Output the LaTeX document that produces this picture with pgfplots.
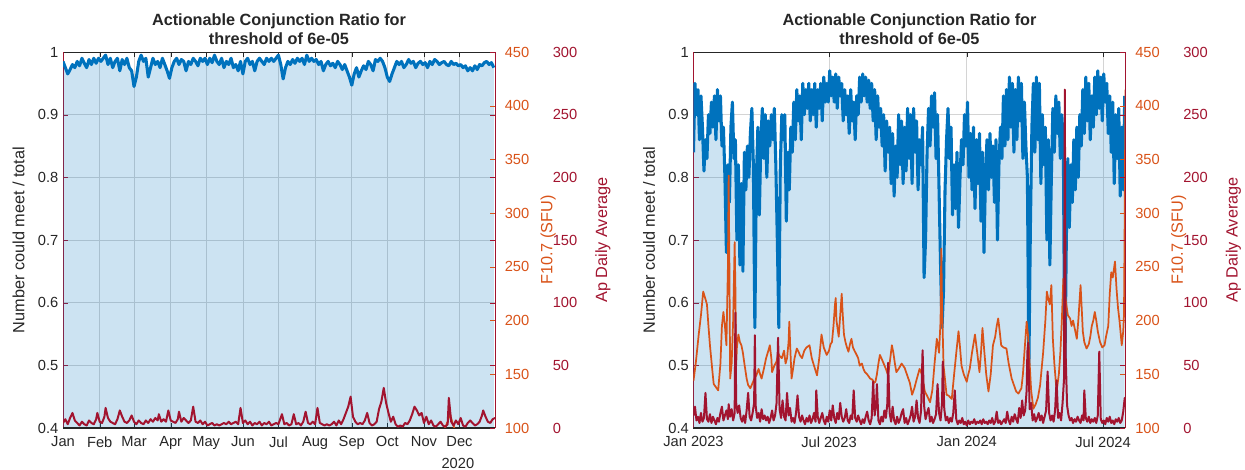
\documentclass[border=0pt]{standalone}
\usepackage{fontspec}
\setmainfont{Liberation Sans}
\usepackage{pgfplots}
\usepackage{pgfplotstable}
\pgfplotsset{compat=1.18}

\definecolor{mblue}{RGB}{0,114,189}
\definecolor{morange}{RGB}{217,83,25}
\definecolor{mred}{RGB}{162,20,47}
\definecolor{axgray}{RGB}{38,38,38}
\definecolor{gridgray}{RGB}{212,212,212}

% ---- 2020 panel ----
\pgfplotstableread[row sep=\\]{
x y\\
0 0.985\\ 2 0.975\\ 4 0.965\\ 6 0.972\\ 8 0.980\\ 10 0.975\\ 12 0.985\\ 14 0.978\\ 16 0.990\\ 18 0.982\\
20 0.975\\ 22 0.988\\ 24 0.980\\ 26 0.990\\ 28 0.982\\ 30 0.990\\ 32 0.985\\ 34 0.990\\ 36 0.995\\ 38 0.980\\
40 0.990\\ 42 0.975\\ 44 0.985\\ 46 0.990\\ 48 0.970\\ 50 0.988\\ 52 0.980\\ 54 0.990\\ 56 0.975\\ 58 0.970\\
60 0.945\\ 62 0.960\\ 64 0.985\\ 66 0.995\\ 68 0.985\\ 70 0.990\\ 72 0.960\\ 74 0.975\\ 76 0.990\\ 78 0.980\\
80 0.985\\ 82 0.975\\ 84 0.990\\ 86 0.980\\ 88 0.970\\ 90 0.958\\ 92 0.975\\ 94 0.985\\ 96 0.990\\ 98 0.980\\
100 0.988\\ 102 0.985\\ 104 0.970\\ 106 0.985\\ 108 0.980\\ 110 0.990\\ 112 0.985\\ 114 0.978\\ 116 0.990\\ 118 0.985\\
120 0.990\\ 122 0.980\\ 124 0.990\\ 126 0.983\\ 128 0.995\\ 130 0.985\\ 132 0.980\\ 134 0.990\\ 136 0.975\\ 138 0.985\\
140 0.980\\ 142 0.990\\ 144 0.975\\ 146 0.980\\ 148 0.970\\ 150 0.985\\ 152 0.965\\ 154 0.985\\ 156 0.990\\ 158 0.980\\
160 0.985\\ 162 0.970\\ 164 0.985\\ 166 0.990\\ 168 0.985\\ 170 0.980\\ 172 0.990\\ 174 0.985\\ 176 0.990\\ 178 0.985\\
180 0.990\\ 182 0.995\\ 184 0.980\\ 186 0.957\\ 188 0.975\\ 190 0.985\\ 192 0.980\\ 194 0.988\\ 196 0.982\\ 198 0.990\\
200 0.985\\ 202 0.990\\ 204 0.980\\ 206 0.995\\ 208 0.985\\ 210 0.990\\ 212 0.985\\ 214 0.988\\ 216 0.980\\ 218 0.985\\
220 0.970\\ 222 0.980\\ 224 0.985\\ 226 0.978\\ 228 0.982\\ 230 0.975\\ 232 0.985\\ 234 0.980\\ 236 0.972\\ 238 0.980\\
240 0.970\\ 242 0.960\\ 244 0.947\\ 246 0.965\\ 248 0.975\\ 250 0.960\\ 252 0.970\\ 254 0.978\\ 256 0.972\\ 258 0.985\\
260 0.980\\ 262 0.970\\ 264 0.988\\ 266 0.985\\ 268 0.990\\ 270 0.985\\ 272 0.975\\ 274 0.960\\ 276 0.953\\ 278 0.965\\
280 0.975\\ 282 0.985\\ 284 0.980\\ 286 0.985\\ 288 0.975\\ 290 0.980\\ 292 0.988\\ 294 0.982\\ 296 0.985\\ 298 0.975\\
300 0.982\\ 302 0.985\\ 304 0.980\\ 306 0.983\\ 308 0.975\\ 310 0.985\\ 312 0.980\\ 314 0.988\\ 316 0.985\\ 318 0.980\\
320 0.983\\ 322 0.985\\ 324 0.980\\ 326 0.978\\ 328 0.985\\ 330 0.980\\ 332 0.982\\ 334 0.978\\ 336 0.980\\ 338 0.975\\
340 0.978\\ 342 0.970\\ 344 0.975\\ 346 0.970\\ 348 0.978\\ 350 0.972\\ 352 0.980\\ 354 0.978\\ 356 0.983\\ 358 0.985\\
360 0.980\\ 362 0.983\\ 364 0.975\\
}\ratioA

\pgfplotstableread[row sep=\\]{
x y\\
300 88\\ 312 90\\ 318 94\\ 322 98\\ 325 106\\ 327 113\\ 329 105\\ 331 99\\ 335 92\\ 345 88\\ 365 85\\
}\fluxA

\pgfplotstableread[row sep=\\]{
x y\\
0 4\\ 2 7\\ 4 3\\ 6 8\\ 8 12\\ 10 6\\ 12 4\\ 14 2\\ 16 5\\ 18 3\\ 20 2\\ 22 6\\ 24 4\\ 26 3\\ 28 7\\ 29 12\\
31 5\\ 33 4\\ 35 9\\ 36 16\\ 38 8\\ 40 5\\ 42 4\\ 44 3\\ 46 7\\ 48 14\\ 50 9\\ 52 5\\ 54 4\\ 56 6\\ 58 10\\
60 5\\ 62 3\\ 64 6\\ 66 4\\ 68 3\\ 70 6\\ 72 4\\ 74 7\\ 76 5\\ 78 8\\ 80 6\\ 81 11\\ 83 5\\ 85 7\\ 87 5\\
89 14\\ 91 6\\ 93 5\\ 95 4\\ 97 7\\ 98 13\\ 100 5\\ 102 8\\ 104 6\\ 106 4\\ 108 6\\ 110 17\\ 112 5\\ 114 4\\
116 6\\ 118 3\\ 120 5\\ 122 2\\ 124 3\\ 126 4\\ 128 2\\ 130 3\\ 132 2\\ 134 3\\ 136 4\\ 138 3\\ 140 5\\
142 3\\ 144 4\\ 146 5\\ 148 3\\ 150 16\\ 152 4\\ 154 6\\ 156 3\\ 158 5\\ 160 2\\ 162 4\\ 164 3\\ 166 5\\
168 2\\ 170 4\\ 172 3\\ 174 5\\ 176 2\\ 178 3\\ 180 4\\ 182 3\\ 185 11\\ 187 3\\ 189 4\\ 191 2\\ 193 3\\
195 11\\ 197 3\\ 199 4\\ 201 2\\ 203 5\\ 205 13\\ 207 4\\ 209 3\\ 211 5\\ 213 3\\ 215 16\\ 217 4\\ 219 3\\
221 2\\ 223 3\\ 225 2\\ 227 3\\ 229 5\\ 231 2\\ 233 6\\ 235 3\\ 237 7\\ 239 12\\ 241 17\\ 243 25\\ 245 9\\
247 5\\ 249 3\\ 251 4\\ 253 3\\ 255 6\\ 257 12\\ 259 4\\ 261 2\\ 263 3\\ 265 5\\ 267 15\\ 269 21\\ 271 32\\
273 20\\ 275 12\\ 277 5\\ 279 9\\ 281 3\\ 283 1\\ 285 2\\ 287 1\\ 289 4\\ 291 3\\ 293 6\\ 295 11\\ 297 17\\
299 14\\ 301 10\\ 303 12\\ 305 4\\ 307 9\\ 309 3\\ 311 6\\ 313 2\\ 315 1\\ 317 3\\ 319 5\\ 321 2\\ 323 1\\
325 3\\ 326 24\\ 328 5\\ 330 2\\ 332 6\\ 334 3\\ 336 8\\ 338 2\\ 340 1\\ 342 4\\ 344 6\\ 346 4\\ 348 2\\
350 3\\ 352 5\\ 354 10\\ 355 14\\ 357 9\\ 359 5\\ 361 4\\ 363 7\\ 365 8\\
}\apA

% ---- 2023-2024 panel ----
\pgfplotstableread[row sep=\\]{
x y\\
0 0.84\\ 2 0.95\\ 4 0.90\\ 6 0.94\\ 8 0.86\\ 10 0.93\\ 12 0.88\\ 14 0.81\\ 16 0.86\\ 18 0.83\\
20 0.90\\ 22 0.87\\ 24 0.92\\ 26 0.88\\ 28 0.93\\ 30 0.86\\ 32 0.94\\ 34 0.89\\ 36 0.93\\ 38 0.85\\
40 0.88\\ 42 0.80\\ 44 0.68\\ 46 0.82\\ 48 0.76\\ 50 0.88\\ 52 0.92\\ 54 0.83\\ 56 0.86\\ 58 0.70\\
60 0.82\\ 62 0.66\\ 64 0.79\\ 66 0.65\\ 68 0.84\\ 70 0.78\\ 72 0.85\\ 74 0.80\\ 76 0.87\\ 78 0.91\\
80 0.82\\ 82 0.56\\ 84 0.80\\ 86 0.88\\ 88 0.74\\ 90 0.86\\ 92 0.91\\ 94 0.83\\ 96 0.90\\ 98 0.80\\
100 0.89\\ 102 0.85\\ 104 0.90\\ 106 0.86\\ 108 0.91\\ 110 0.82\\ 112 0.70\\ 114 0.56\\ 116 0.82\\ 118 0.90\\
120 0.86\\ 122 0.90\\ 124 0.73\\ 126 0.84\\ 128 0.78\\ 130 0.88\\ 132 0.84\\ 134 0.92\\ 136 0.86\\ 138 0.94\\
140 0.89\\ 142 0.93\\ 144 0.86\\ 146 0.95\\ 148 0.90\\ 150 0.94\\ 152 0.91\\ 154 0.95\\ 156 0.89\\ 158 0.94\\
160 0.90\\ 162 0.95\\ 164 0.88\\ 166 0.94\\ 168 0.91\\ 170 0.95\\ 172 0.89\\ 174 0.96\\ 176 0.92\\ 178 0.95\\
180 0.92\\ 182 0.97\\ 184 0.93\\ 186 0.96\\ 188 0.92\\ 190 0.965\\ 192 0.91\\ 194 0.96\\ 196 0.93\\ 198 0.95\\
200 0.89\\ 202 0.94\\ 204 0.90\\ 206 0.93\\ 208 0.87\\ 210 0.94\\ 212 0.89\\ 214 0.92\\ 216 0.86\\ 218 0.93\\
220 0.90\\ 222 0.96\\ 224 0.92\\ 226 0.965\\ 228 0.93\\ 230 0.96\\ 232 0.92\\ 234 0.955\\ 236 0.91\\ 238 0.95\\
240 0.89\\ 242 0.94\\ 244 0.86\\ 246 0.93\\ 248 0.88\\ 250 0.91\\ 252 0.85\\ 254 0.90\\ 256 0.81\\ 258 0.89\\
260 0.84\\ 262 0.88\\ 264 0.79\\ 266 0.87\\ 268 0.77\\ 270 0.85\\ 272 0.80\\ 274 0.90\\ 276 0.82\\ 278 0.89\\
280 0.79\\ 282 0.88\\ 284 0.81\\ 286 0.91\\ 288 0.83\\ 290 0.90\\ 292 0.79\\ 294 0.91\\ 296 0.84\\ 298 0.89\\
300 0.78\\ 302 0.86\\ 304 0.82\\ 306 0.88\\ 308 0.64\\ 310 0.70\\ 312 0.84\\ 314 0.91\\ 316 0.85\\ 318 0.93\\
320 0.88\\ 322 0.935\\ 324 0.83\\ 326 0.90\\ 328 0.78\\ 330 0.66\\ 332 0.56\\ 334 0.62\\ 336 0.78\\ 338 0.86\\
340 0.91\\ 342 0.83\\ 344 0.88\\ 346 0.74\\ 348 0.82\\ 350 0.75\\ 352 0.84\\ 354 0.72\\ 356 0.80\\ 358 0.86\\
360 0.82\\ 362 0.90\\ 364 0.85\\ 366 0.92\\ 368 0.80\\ 370 0.87\\ 372 0.78\\ 374 0.88\\ 376 0.75\\ 378 0.86\\
380 0.79\\ 382 0.87\\ 384 0.73\\ 386 0.84\\ 388 0.68\\ 390 0.80\\ 392 0.86\\ 394 0.78\\ 396 0.87\\ 398 0.80\\
400 0.85\\ 402 0.76\\ 404 0.86\\ 406 0.70\\ 408 0.82\\ 410 0.88\\ 412 0.83\\ 414 0.93\\ 416 0.85\\ 418 0.94\\
420 0.86\\ 422 0.96\\ 424 0.88\\ 426 0.95\\ 428 0.84\\ 430 0.94\\ 432 0.86\\ 434 0.96\\ 436 0.89\\ 438 0.95\\
440 0.83\\ 442 0.92\\ 444 0.85\\ 446 0.80\\ 448 0.50\\ 450 0.72\\ 452 0.88\\ 454 0.95\\ 456 0.84\\ 458 0.96\\
460 0.86\\ 462 0.95\\ 464 0.79\\ 466 0.90\\ 468 0.82\\ 470 0.88\\ 472 0.70\\ 474 0.86\\ 476 0.66\\ 478 0.80\\
480 0.91\\ 482 0.84\\ 484 0.93\\ 486 0.87\\ 488 0.92\\ 490 0.83\\ 492 0.90\\ 494 0.85\\ 496 0.48\\ 498 0.70\\
500 0.83\\ 502 0.72\\ 504 0.82\\ 506 0.76\\ 508 0.86\\ 510 0.78\\ 512 0.88\\ 514 0.80\\ 516 0.90\\ 518 0.85\\
520 0.94\\ 522 0.87\\ 524 0.96\\ 526 0.89\\ 528 0.95\\ 530 0.86\\ 532 0.93\\ 534 0.88\\ 536 0.96\\ 538 0.90\\
540 0.97\\ 542 0.91\\ 544 0.96\\ 546 0.89\\ 548 0.965\\ 550 0.92\\ 552 0.95\\ 554 0.87\\ 556 0.93\\ 558 0.84\\
560 0.92\\ 562 0.79\\ 564 0.90\\ 566 0.83\\ 568 0.91\\ 570 0.77\\ 572 0.88\\ 574 0.78\\ 576 0.93\\
}\ratioB

\pgfplotstableread[row sep=\\]{
x y\\
0 144\\ 3 160\\ 7 187\\ 10 205\\ 13 227\\ 16 220\\ 18 215\\ 20 195\\ 22 177\\ 25 155\\ 27 141\\ 30 138\\
33 135\\ 36 160\\ 38 195\\ 40 208\\ 42 195\\ 44 177\\ 46 250\\ 47 335\\ 48 250\\ 49 146\\ 51 160\\ 53 200\\
55 273\\ 56 230\\ 57 158\\ 58 175\\ 60 187\\ 62 180\\ 64 177\\ 66 170\\ 68 160\\ 71 146\\ 73 140\\ 76 137\\
79 142\\ 82 147\\ 84 149\\ 87 155\\ 89 150\\ 91 146\\ 94 155\\ 97 165\\ 100 172\\ 102 177\\ 104 165\\ 105 152\\
108 158\\ 111 162\\ 113 170\\ 115 167\\ 118 165\\ 121 172\\ 123 160\\ 125 165\\ 127 180\\ 128 199\\ 129 180\\
131 146\\ 133 155\\ 135 165\\ 138 174\\ 141 170\\ 142 168\\ 145 165\\ 148 172\\ 151 175\\ 155 177\\ 158 165\\
161 158\\ 165 149\\ 168 165\\ 171 187\\ 174 175\\ 178 168\\ 181 172\\ 183 178\\ 185 180\\ 187 195\\ 189 215\\
190 221\\ 191 200\\ 193 190\\ 194 185\\ 196 205\\ 198 225\\ 199 210\\ 201 187\\ 203 180\\ 205 175\\ 207 171\\
209 178\\ 211 183\\ 213 175\\ 215 172\\ 218 168\\ 220 165\\ 222 158\\ 225 160\\ 227 155\\ 229 152\\ 232 150\\
234 148\\ 236 146\\ 239 145\\ 241 142\\ 243 143\\ 245 150\\ 247 160\\ 249 168\\ 251 165\\ 254 160\\ 257 155\\
260 149\\ 262 160\\ 265 177\\ 267 170\\ 269 160\\ 271 152\\ 274 155\\ 278 160\\ 282 156\\ 285 150\\ 287 146\\
289 142\\ 292 131\\ 295 137\\ 298 145\\ 302 155\\ 305 150\\ 309 134\\ 312 130\\ 316 124\\ 319 135\\ 322 160\\
325 183\\ 327 175\\ 328 170\\ 330 200\\ 331 267\\ 332 215\\ 334 158\\ 336 145\\ 338 131\\ 341 130\\ 345 127\\
348 149\\ 351 170\\ 354 190\\ 356 175\\ 358 158\\ 361 150\\ 365 143\\ 367 150\\ 369 155\\ 372 170\\ 376 187\\
379 170\\ 382 152\\ 384 170\\ 386 193\\ 388 175\\ 391 150\\ 394 134\\ 397 150\\ 400 177\\ 403 185\\ 405 195\\
407 202\\ 409 190\\ 411 177\\ 414 175\\ 418 174\\ 421 160\\ 425 146\\ 428 140\\ 431 134\\ 434 132\\ 438 137\\
440 150\\ 442 170\\ 445 199\\ 447 185\\ 449 160\\ 451 135\\ 454 118\\ 457 122\\ 460 128\\ 463 140\\ 467 170\\
470 200\\ 472 227\\ 474 220\\ 476 215\\ 478 233\\ 480 183\\ 482 160\\ 485 134\\ 488 150\\ 490 170\\ 492 200\\
494 239\\ 496 225\\ 498 215\\ 500 205\\ 503 202\\ 505 195\\ 507 200\\ 510 190\\ 512 183\\ 514 200\\ 517 233\\
519 205\\ 520 190\\ 522 180\\ 525 174\\ 528 178\\ 530 185\\ 532 195\\ 534 200\\ 536 208\\ 538 200\\ 540 190\\
543 180\\ 546 175\\ 549 177\\ 551 185\\ 554 195\\ 556 225\\ 558 245\\ 560 240\\ 562 250\\ 563 255\\ 565 230\\
567 212\\ 569 200\\ 572 177\\ 574 190\\ 575 205\\ 576 300\\ 577 415\\
}\fluxB

\pgfplotstableread[row sep=\\]{
x y\\
0 10\\ 2 17\\ 4 6\\ 6 9\\ 8 4\\ 10 12\\ 12 5\\ 14 8\\ 16 28\\ 18 7\\ 20 5\\ 22 11\\ 24 4\\ 26 9\\ 28 6\\
30 3\\ 32 8\\ 34 5\\ 36 12\\ 38 17\\ 40 6\\ 42 10\\ 44 14\\ 46 7\\ 47 19\\ 49 9\\ 51 15\\ 53 6\\ 55 12\\
56 92\\ 57 20\\ 59 12\\ 61 18\\ 63 8\\ 65 5\\ 67 10\\ 69 4\\ 71 14\\ 73 28\\ 75 9\\ 77 6\\ 79 12\\ 81 20\\
82 74\\ 83 18\\ 85 8\\ 87 12\\ 89 5\\ 91 15\\ 93 7\\ 95 10\\ 97 6\\ 99 9\\ 101 4\\ 103 8\\ 105 14\\ 107 6\\
109 10\\ 111 20\\ 113 72\\ 115 15\\ 117 8\\ 119 22\\ 121 9\\ 123 6\\ 125 28\\ 127 10\\ 129 16\\ 131 5\\
133 8\\ 135 4\\ 137 12\\ 139 26\\ 141 9\\ 143 5\\ 145 10\\ 147 6\\ 149 3\\ 151 8\\ 153 5\\ 155 10\\ 157 4\\
159 7\\ 161 12\\ 163 5\\ 164 30\\ 166 9\\ 168 4\\ 170 8\\ 172 12\\ 174 6\\ 176 3\\ 178 9\\ 180 5\\ 182 14\\
184 6\\ 186 18\\ 188 8\\ 190 4\\ 192 12\\ 194 7\\ 196 20\\ 198 9\\ 200 5\\ 202 8\\ 204 15\\ 206 6\\ 208 4\\
210 10\\ 212 7\\ 214 30\\ 216 8\\ 218 5\\ 220 10\\ 222 6\\ 224 3\\ 226 7\\ 228 4\\ 230 9\\ 232 13\\ 234 6\\
236 3\\ 238 8\\ 240 37\\ 242 10\\ 244 20\\ 245 35\\ 247 6\\ 249 3\\ 251 9\\ 253 5\\ 255 14\\ 257 8\\ 259 20\\
260 52\\ 262 12\\ 264 5\\ 266 17\\ 268 6\\ 270 3\\ 272 9\\ 274 4\\ 276 7\\ 278 12\\ 280 15\\ 282 4\\ 284 8\\
286 3\\ 288 6\\ 290 10\\ 292 17\\ 294 5\\ 296 9\\ 298 22\\ 300 8\\ 302 4\\ 304 14\\ 306 62\\ 308 18\\ 310 7\\
312 12\\ 314 16\\ 316 5\\ 318 9\\ 320 4\\ 322 7\\ 324 11\\ 326 35\\ 328 12\\ 330 6\\ 332 20\\ 333 53\\ 335 15\\
337 6\\ 339 9\\ 341 4\\ 343 8\\ 345 5\\ 347 12\\ 349 30\\ 351 7\\ 353 3\\ 355 6\\ 357 4\\ 359 8\\ 361 3\\
363 5\\ 365 2\\ 367 6\\ 369 3\\ 371 5\\ 373 4\\ 375 7\\ 377 3\\ 379 5\\ 381 4\\ 383 6\\ 385 3\\ 387 7\\ 389 4\\
391 5\\ 393 3\\ 395 6\\ 397 4\\ 399 8\\ 401 3\\ 403 5\\ 405 13\\ 407 4\\ 409 6\\ 411 3\\ 413 5\\ 415 7\\
417 4\\ 419 13\\ 421 6\\ 423 3\\ 425 9\\ 427 5\\ 429 11\\ 431 7\\ 433 4\\ 435 16\\ 437 8\\ 439 22\\ 441 10\\
443 14\\ 445 30\\ 446 61\\ 447 68\\ 449 15\\ 451 20\\ 453 6\\ 455 11\\ 457 5\\ 459 8\\ 461 12\\ 463 6\\
465 10\\ 467 4\\ 469 9\\ 471 14\\ 473 45\\ 475 12\\ 477 6\\ 479 10\\ 481 5\\ 483 14\\ 485 38\\ 487 8\\ 489 12\\
491 6\\ 493 20\\ 495 40\\ 496 270\\ 497 60\\ 499 18\\ 501 10\\ 503 6\\ 505 8\\ 507 4\\ 509 7\\ 511 5\\ 513 9\\
515 6\\ 517 4\\ 519 10\\ 521 6\\ 522 30\\ 524 8\\ 526 5\\ 528 9\\ 530 4\\ 532 7\\ 534 5\\ 536 8\\ 538 4\\
540 10\\ 542 61\\ 544 7\\ 546 4\\ 548 6\\ 550 3\\ 552 8\\ 554 5\\ 556 9\\ 558 4\\ 560 6\\ 562 3\\ 564 7\\
566 5\\ 568 8\\ 570 4\\ 572 6\\ 574 13\\ 576 24\\ 577 20\\
}\apB

\newcommand{\tickfont}{\fontsize{11}{13}\selectfont}
\newcommand{\labfont}{\fontsize{12.2}{14}\selectfont}

\pgfplotsset{
  panel/.style={scale only axis, width=324pt, height=282pt, anchor=south west,
    tick align=inside, major tick length=4pt,
    tick label style={font=\tickfont}, label style={font=\labfont}},
  mainax/.style={panel, ymin=0.4, ymax=1,
    ytick={0.4,0.5,0.6,0.7,0.8,0.9,1}, yticklabels={0.4,0.5,0.6,0.7,0.8,0.9,1},
    grid=major, grid style={gridgray, line width=0.6pt},
    separate axis lines,
    x axis line style={axgray, line width=0.6pt},
    y axis line style={mred, line width=0.6pt},
    xtick style={axgray}, ytick style={mred}, ytick pos=left,
    tick label style={axgray},
    xticklabel style={yshift=-3pt},
    ylabel={Number could meet / total},
    ylabel style={at={(rel axis cs:-0.103,0.5)}, anchor=center, axgray},
    title style={align=center, font=\bfseries\labfont, axgray, yshift=-4pt},
    title={Actionable Conjunction Ratio for\\threshold of 6e-05}},
  fluxax/.style={panel, axis y line*=right, axis x line=none, xtick=\empty,
    ymin=100, ymax=450, ytick={100,150,200,250,300,350,400,450},
    yticklabels={100,150,200,250,300,350,400,450},
    y axis line style={draw=none}, ytick style={morange},
    yticklabel style={morange, anchor=west, xshift=3.8pt},
    ylabel={F10.7 (SFU)},
    ylabel style={at={(rel axis cs:1.123,0.5)}, anchor=center, morange}},
  apax/.style={panel, axis y line*=right, axis x line=none, xtick=\empty,
    ymin=0, ymax=300, ytick={0,50,100,150,200,250,300},
    yticklabels={0,50,100,150,200,250,300},
    y axis line style={mred, line width=0.6pt}, ytick style={mred},
    yticklabel style={mred, anchor=west, xshift=39.8pt},
    ylabel={Ap Daily Average},
    ylabel style={at={(rel axis cs:1.25,0.5)}, anchor=center, mred}},
  ratioline/.style={mblue, line width=2.3pt, line join=round},
  ratiofill/.style={draw=none, fill=mblue, fill opacity=0.2},
  fluxline/.style={morange, line width=1.3pt, line join=round},
  apline/.style={mred, line width=1.5pt, line join=round},
}

\begin{document}
\begin{tikzpicture}
\path[use as bounding box] (0,0) rectangle (933.75pt,352.5pt);

% ---------------- left panel (2020) ----------------
\begin{axis}[mainax, at={(47.25pt,31.5pt)}, xmin=0, xmax=365,
    xtick={0,31,60,91,121,152,182,213,244,274,305,335},
    xticklabels={Jan,Feb,Mar,Apr,May,Jun,Jul,Aug,Sep,Oct,Nov,Dec},
    xlabel={2020}, xlabel style={at={(rel axis cs:0.914,-0.093)}, anchor=center, font=\tickfont, axgray}]
  \addplot[ratiofill] table {\ratioA} \closedcycle;
  \addplot[ratioline] table {\ratioA};
  \addplot[axgray, line width=2.2pt] coordinates {(0,0.4) (365,0.4)};
\end{axis}
\begin{axis}[fluxax, at={(47.25pt,31.5pt)}, xmin=0, xmax=365]
  \addplot[fluxline] table {\fluxA};
\end{axis}
\begin{axis}[apax, at={(47.25pt,31.5pt)}, xmin=0, xmax=365]
  \addplot[apline] table {\apA};
\end{axis}

% ---------------- right panel (2023-2024) ----------------
\begin{axis}[mainax, at={(520.1pt,31.5pt)}, xmin=0, xmax=577,
    xtick={0,181,365,547},
    xticklabels={Jan 2023,Jul 2023,Jan 2024,Jul 2024}]
  \addplot[ratiofill] table {\ratioB} \closedcycle;
  \addplot[ratioline] table {\ratioB};
  \addplot[axgray, line width=2.2pt] coordinates {(0,0.4) (577,0.4)};
\end{axis}
\begin{axis}[fluxax, at={(520.1pt,31.5pt)}, xmin=0, xmax=577]
  \addplot[fluxline] table {\fluxB};
\end{axis}
\begin{axis}[apax, at={(520.1pt,31.5pt)}, xmin=0, xmax=577]
  \addplot[apline] table {\apB};
\end{axis}
\end{tikzpicture}
\end{document}
